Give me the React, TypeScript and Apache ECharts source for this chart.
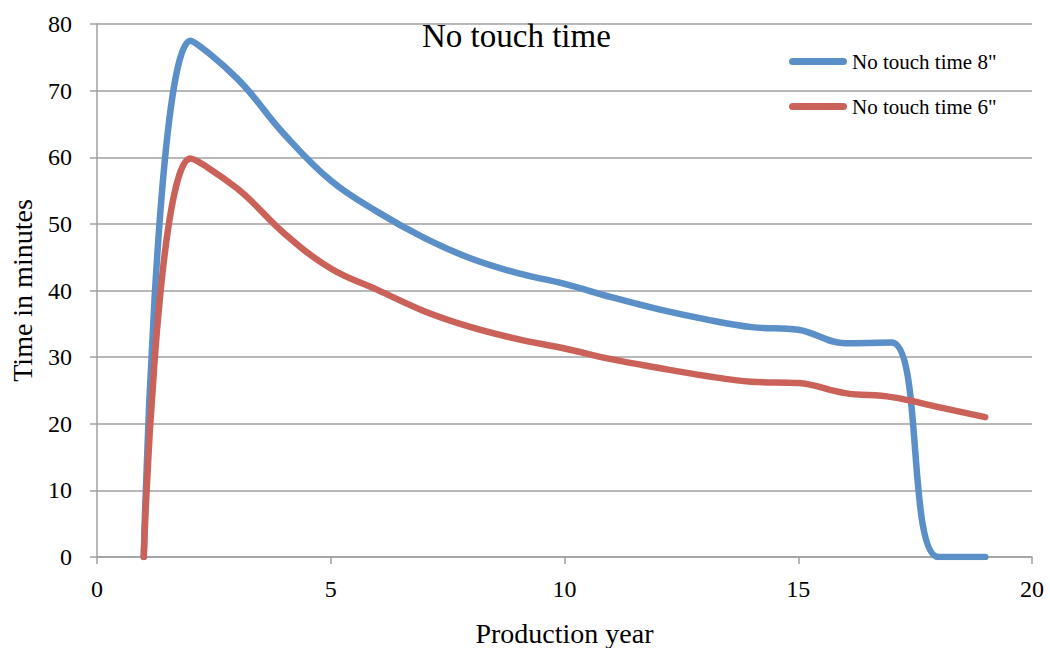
import React, { useEffect, useRef } from "react";
import * as echarts from "echarts";

// Production years along the x axis
const years = [1, 2, 3, 4, 5, 6, 7, 8, 9, 10, 11, 12, 13, 14, 15, 16, 17, 18, 19];

// No touch time in minutes, 8" and 6"
const noTouch8 = [0, 77.5, 71.8, 63.5, 56.5, 51.8, 47.9, 44.8, 42.6, 41.0, 39.0, 37.2, 35.7, 34.5, 34.1, 32.1, 32.2, 0, 0];
const noTouch6 = [0, 59.8, 55.3, 48.6, 43.3, 40.1, 36.9, 34.5, 32.7, 31.3, 29.7, 28.4, 27.2, 26.3, 26.1, 24.6, 24.0, 22.5, 21.0];

const seriesNames = ['No touch time 8"', 'No touch time 6"'];
const seriesColors = ["#5b8fc8", "#cb625a"];

const FONT = "'Liberation Serif', 'DejaVu Serif', serif";
const GRID_GRAY = "#a0a0a0";

const pairs = (ys: number[]) => years.map((x, i) => [x, ys[i]]);

export default function App() {
  const ref = useRef<HTMLDivElement>(null);

  useEffect(() => {
    if (!ref.current) return;
    const chart = echarts.init(ref.current, undefined, { renderer: "svg" });
    chart.setOption({
      animation: false,
      backgroundColor: "#ffffff",
      textStyle: { fontFamily: FONT, color: "#000" },
      title: {
        text: "No touch time",
        left: 417,
        top: 14,
        textStyle: { fontFamily: FONT, fontSize: 33, fontWeight: "normal", color: "#000" },
      },
      legend: {
        orient: "vertical",
        left: 789,
        top: 51,
        padding: 0,
        itemWidth: 58,
        itemHeight: 7,
        itemGap: 24,
        icon: "path://M3.5,0 L54.5,0 A3.5,3.5 0 0 1 54.5,7 L3.5,7 A3.5,3.5 0 0 1 3.5,0 Z",
        itemStyle: { borderWidth: 0 },
        textStyle: { fontFamily: FONT, fontSize: 21, color: "#000" },
        data: seriesNames,
      },
      grid: { left: 97, right: 18, top: 24, bottom: 91, containLabel: false, outerBoundsMode: "none" },
      xAxis: {
        type: "value",
        min: 0,
        max: 20,
        interval: 5,
        name: "Production year",
        nameLocation: "middle",
        nameGap: 62,
        nameTextStyle: { fontFamily: FONT, fontSize: 28, color: "#000" },
        axisLine: { show: true, lineStyle: { color: GRID_GRAY, width: 1.5 } },
        axisTick: { show: true, length: 7, lineStyle: { color: GRID_GRAY, width: 1.5 } },
        axisLabel: { fontFamily: FONT, fontSize: 24, color: "#000", margin: 20 },
        splitLine: { show: false },
      },
      yAxis: {
        type: "value",
        min: 0,
        max: 80,
        interval: 10,
        name: "Time in minutes",
        nameLocation: "middle",
        nameGap: 61,
        nameTextStyle: { fontFamily: FONT, fontSize: 28, color: "#000" },
        axisLine: { show: true, lineStyle: { color: GRID_GRAY, width: 1.5 } },
        axisTick: { show: true, length: 7, lineStyle: { color: GRID_GRAY, width: 1.5 } },
        axisLabel: { fontFamily: FONT, fontSize: 24, color: "#000", margin: 25 },
        splitLine: { show: true, lineStyle: { color: GRID_GRAY, width: 1.5 } },
      },
      series: [noTouch8, noTouch6].map((ys, i) => ({
        name: seriesNames[i],
        type: "line",
        data: pairs(ys),
        smooth: 0.4,
        showSymbol: false,
        symbol: "none",
        clip: true,
        color: seriesColors[i],
        lineStyle: { color: seriesColors[i], width: 6.5, cap: "round", join: "round" },
      })),
    });
    return () => chart.dispose();
  }, []);

  return (
    <div
      ref={ref}
      style={{ position: "fixed", left: 0, top: 0, width: 1050, height: 648, background: "#fff" }}
    />
  );
}
